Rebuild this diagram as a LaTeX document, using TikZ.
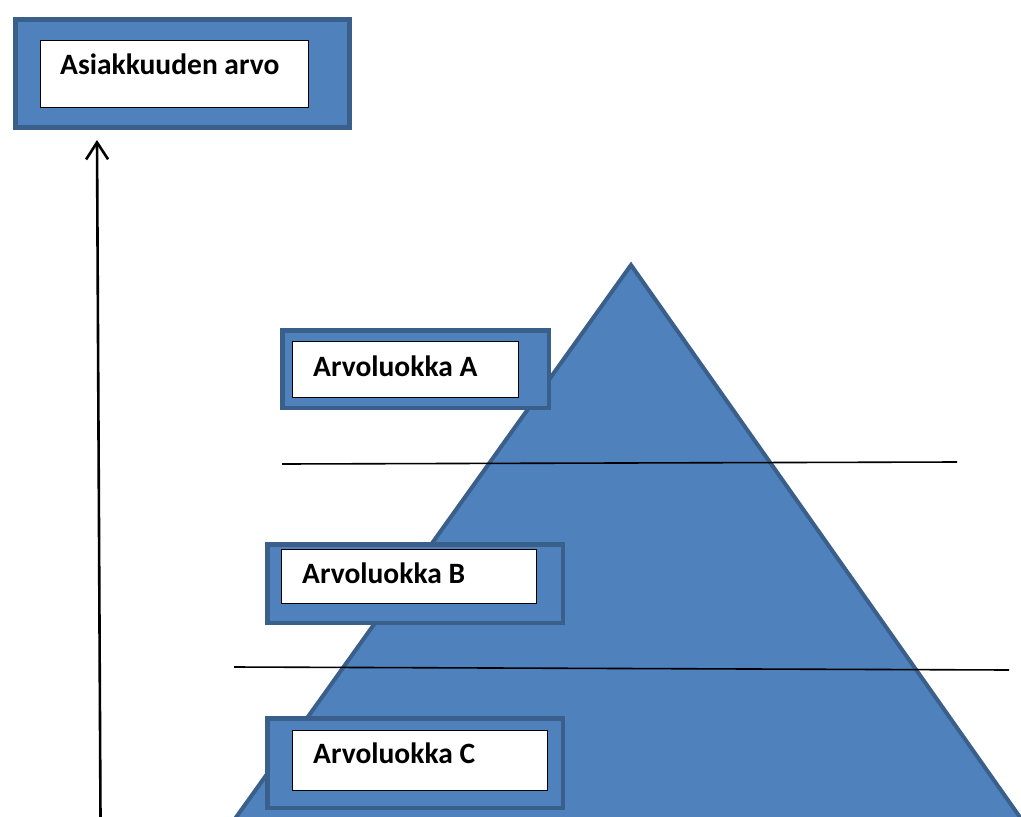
\documentclass[tikz,border=0pt]{standalone}
\usepackage{fontspec}
\setmainfont{Carlito}
\usetikzlibrary{arrows.meta}
\definecolor{boxfill}{HTML}{4F81BD}
\definecolor{boxedge}{HTML}{3A5F8B}
\begin{document}
\begin{tikzpicture}[x=1pt,y=-1pt,
  outerbox/.style={draw=boxedge, fill=boxfill, line width=4.5pt, anchor=north west, inner sep=0pt},
  innerbox/.style={draw=black, fill=white, line width=1.2pt, anchor=north west, inner sep=0pt},
  lbl/.style={font=\fontsize{29.5}{35}\selectfont\bfseries, anchor=base west, inner sep=0pt},
  divider/.style={draw=black, line width=1.6pt}]
\useasboundingbox (0,0) rectangle (1021,817);
\begin{scope}
  \clip (0,0) rectangle (1021,817);
  \draw[boxedge, fill=boxfill, line width=4pt, line join=miter] (631,265) -- (1029,830) -- (227,830) -- cycle;
\end{scope}
% dividers
\coordinate (d1a) at (282,464);
\coordinate (d1b) at (957,462);
\coordinate (d2a) at (234,667);
\coordinate (d2b) at (1009,670);
\draw[divider] (d1a) -- (d1b);
\draw[divider] (d2a) -- (d2b);
% title box
\node[outerbox, minimum width=334pt, minimum height=108pt] (tout) at (13,17.3) {};
\node[innerbox, minimum width=268.5pt, minimum height=67.5pt] (tin) at (39.5,39.5) {};
\node[lbl] (ttext) at (60,74) {Asiakkuuden arvo};
% box A
\node[outerbox, minimum width=266.5pt, minimum height=77.5pt] (aout) at (280.25,328.25) {};
\node[innerbox, minimum width=226pt, minimum height=56pt] (ain) at (292,341) {};
\node[lbl] (atext) at (313,376) {Arvoluokka A};
% box B
\node[outerbox, minimum width=295.5pt, minimum height=78.5pt] (bout) at (265.25,542.25) {};
\node[innerbox, minimum width=255pt, minimum height=54pt] (bin) at (281,549) {};
\node[lbl] (btext) at (302,583) {Arvoluokka B};
% box C
\node[outerbox, minimum width=295.5pt, minimum height=89.5pt] (cout) at (265.25,716.25) {};
\node[innerbox, minimum width=255pt, minimum height=60pt] (cin) at (292,730) {};
\node[lbl] (ctext) at (313,763) {Arvoluokka C};
% arrow
\coordinate (abot) at (100.5,818);
\coordinate (atop) at (97,140);
\draw[line width=2.6pt, -{Straight Barb[length=17pt, width=22pt, line width=2.6pt]}] (abot) -- (atop);
\end{tikzpicture}
\end{document}
